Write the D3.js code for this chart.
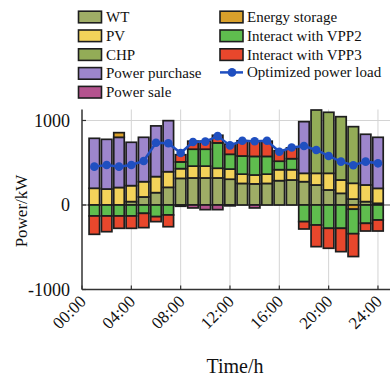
<!DOCTYPE html>
<html>
<head>
<meta charset="utf-8">
<script src="https://cdn.jsdelivr.net/npm/d3@7"></script>
<style>
  html, body { margin: 0; padding: 0; background: #fff; }
  svg { display: block; font-family: "Liberation Serif", "DejaVu Serif", serif; }
</style>
</head>
<body>
<svg id="chart" width="390" height="380"></svg>
<script>
// Hourly dispatch of VPP1 (kW)
const hours = [1, 2, 3, 4, 5, 6, 7, 8, 9, 10, 11, 12, 13, 14, 15, 16, 17, 18, 19, 20, 21, 22, 23, 24];
const tickHours = [0, 4, 8, 12, 16, 20, 24];
const tickLabels = ["00:00", "04:00", "08:00", "12:00", "16:00", "20:00", "24:00"];
const yTicks = [-1000, 0, 1000];

const wt       = [0, 0, 0, 40, 95, 146, 209, 315, 320, 320, 320, 305, 255, 250, 255, 288, 296, 276, 237, 178, 138, 70, 40, 20];
const pv       = [198, 189, 207, 189, 181, 190, 185, 115, 140, 140, 115, 120, 110, 105, 110, 130, 122, 99, 138, 197, 158, 187, 197, 177];
const chp      = [0, 0, 0, 0, 0, 0, 0, 0, 0, 0, 0, 0, 0, 0, 0, 0, 0, 0, 749, 722, 749, 670, 0, 0];
const purchase = [591, 588, 594, 513, 525, 600, 604, 0, 0, 0, 0, 0, 0, 0, 0, 0, 0, 611, 0, 0, 0, 0, 600, 604];
const sale     = [0, 0, 0, 0, 0, 0, 0, -15, -35, -55, -55, -10, 0, -35, 0, 0, 0, 0, 0, 0, 0, 0, 0, 0];
const storage  = [0, 0, 55, 0, 0, 0, 0, 0, 0, 0, 0, 0, 0, 0, 0, 0, 0, 0, 0, 0, 0, -50, 0, 0];
const vpp2     = [-130, -130, -130, -130, -99, -138, -118, 80, 200, 200, 300, 175, 215, 220, 210, 100, 130, -197, -237, -276, -276, -290, -217, -178];
const vpp3     = [-217, -186, -146, -146, -169, -59, -139, 85, 95, 95, 90, 120, 180, 180, 180, 125, 127, -87, -256, -236, -276, -270, -91, -130];
const load     = [454, 473, 454, 473, 521, 737, 730, 615, 745, 750, 815, 705, 760, 755, 760, 630, 680, 698, 651, 580, 513, 470, 513, 493];

const series = [
  { key: "WT",                  values: wt,       color: "#9fad66" },
  { key: "PV",                  values: pv,       color: "#f3d35a" },
  { key: "CHP",                 values: chp,      color: "#93ac57" },
  { key: "Power purchase",      values: purchase, color: "#9d86cc" },
  { key: "Power sale",          values: sale,     color: "#b4538e" },
  { key: "Energy storage",      values: storage,  color: "#d9a02b" },
  { key: "Interact with VPP2",  values: vpp2,     color: "#5fbd4e" },
  { key: "Interact with VPP3",  values: vpp3,     color: "#e8472c" }
];
const loadColor = "#1f4fc0";

const rows = hours.map((h, i) => {
  const r = { hour: h };
  series.forEach(s => { r[s.key] = s.values[i]; });
  return r;
});

const svg = d3.select("#chart");

const x = d3.scaleLinear().domain([0, 25]).range([82, 390.3]);
const y = d3.scaleLinear().domain([-1000, 1130]).range([289.5, 109.5]);

// grid
const grid = svg.append("g");
grid.selectAll("line.v").data(tickHours.slice(1)).join("line")
  .attr("x1", d => x(d)).attr("x2", d => x(d))
  .attr("y1", y.range()[1]).attr("y2", y.range()[0])
  .attr("stroke", "#d4d4d4").attr("stroke-width", 1);
grid.append("line")
  .attr("x1", x(0)).attr("x2", 390)
  .attr("y1", y(1000)).attr("y2", y(1000))
  .attr("stroke", "#d4d4d4").attr("stroke-width", 1);
grid.append("line")
  .attr("x1", x(0)).attr("x2", 390)
  .attr("y1", y(0)).attr("y2", y(0))
  .attr("stroke", "#555").attr("stroke-width", 1);

// stacked bars
const stack = d3.stack()
  .keys(series.map(s => s.key))
  .offset(d3.stackOffsetDiverging);
const stacked = stack(rows);
const barW = 10.5;

svg.append("g").selectAll("g").data(stacked).join("g")
  .attr("fill", (d, i) => series[i].color)
  .selectAll("rect").data(d => d.filter(p => p[1] - p[0] !== 0)).join("rect")
  .attr("x", d => x(d.data.hour) - barW / 2)
  .attr("width", barW)
  .attr("y", d => y(Math.max(d[0], d[1])))
  .attr("height", d => Math.abs(y(d[0]) - y(d[1])))
  .attr("stroke", "#1e1e1e")
  .attr("stroke-width", 1.7);

// optimized load line
const lineGen = d3.line().x((d, i) => x(hours[i])).y(d => y(d));
svg.append("path").datum(load)
  .attr("d", lineGen)
  .attr("fill", "none")
  .attr("stroke", loadColor)
  .attr("stroke-width", 2.5);
svg.append("g").selectAll("circle").data(load).join("circle")
  .attr("cx", (d, i) => x(hours[i]))
  .attr("cy", d => y(d))
  .attr("r", 4.3)
  .attr("fill", loadColor);

// axes
const axisColor = "#333";
svg.append("line")
  .attr("x1", x(0)).attr("x2", x(0))
  .attr("y1", y.range()[1]).attr("y2", y.range()[0])
  .attr("stroke", axisColor).attr("stroke-width", 1.5);
svg.append("line")
  .attr("x1", x(0)).attr("x2", 390)
  .attr("y1", y(-1000)).attr("y2", y(-1000))
  .attr("stroke", axisColor).attr("stroke-width", 1.5);

svg.append("g").selectAll("line").data(tickHours).join("line")
  .attr("x1", d => x(d)).attr("x2", d => x(d))
  .attr("y1", y(-1000)).attr("y2", y(-1000) - 4)
  .attr("stroke", axisColor).attr("stroke-width", 1.2);
svg.append("g").selectAll("line").data(yTicks).join("line")
  .attr("x1", x(0)).attr("x2", x(0) + 4)
  .attr("y1", d => y(d)).attr("y2", d => y(d))
  .attr("stroke", axisColor).attr("stroke-width", 1.2);

svg.append("g").selectAll("text").data(yTicks).join("text")
  .attr("x", 70)
  .attr("y", d => y(d))
  .attr("dy", "0.35em")
  .attr("text-anchor", "end")
  .attr("font-size", 18)
  .attr("fill", "#111")
  .text(d => d);

svg.append("g").selectAll("text").data(tickHours).join("text")
  .attr("transform", d => `translate(${x(d) + 5},${y(-1000) + 13}) rotate(-45)`)
  .attr("text-anchor", "end")
  .attr("font-size", 17)
  .attr("fill", "#111")
  .text((d, i) => tickLabels[i]);

svg.append("text")
  .attr("x", 235).attr("y", 373)
  .attr("text-anchor", "middle")
  .attr("font-size", 20)
  .attr("fill", "#111")
  .text("Time/h");

svg.append("text")
  .attr("transform", "translate(27,211) rotate(-90)")
  .attr("text-anchor", "middle")
  .attr("font-size", 17)
  .attr("fill", "#111")
  .text("Power/kW");

// legend
const legendLeft = series.slice(0, 5);
const legendRight = series.slice(5);
const rowY = i => 17 + 18.8 * i;

function legendColumn(items, bx, tx) {
  const g = svg.append("g");
  items.forEach((s, i) => {
    g.append("rect")
      .attr("x", bx).attr("y", rowY(i) - 5.8)
      .attr("width", 23).attr("height", 11.6)
      .attr("fill", s.color)
      .attr("stroke", "#1e1e1e").attr("stroke-width", 1.6);
    g.append("text")
      .attr("x", tx).attr("y", rowY(i) + 5)
      .attr("font-size", 15)
      .attr("fill", "#111")
      .text(s.key);
  });
  return g;
}
legendColumn(legendLeft, 78.5, 106);
const gr = legendColumn(legendRight, 220, 247);
const ly = rowY(3) - 1;
gr.append("line")
  .attr("x1", 220).attr("x2", 243)
  .attr("y1", ly).attr("y2", ly)
  .attr("stroke", loadColor).attr("stroke-width", 2.5);
gr.append("circle")
  .attr("cx", 232).attr("cy", ly).attr("r", 4.3)
  .attr("fill", loadColor);
gr.append("text")
  .attr("x", 247).attr("y", ly + 5)
  .attr("font-size", 15)
  .attr("fill", "#111")
  .text("Optimized power load");
</script>
</body>
</html>
